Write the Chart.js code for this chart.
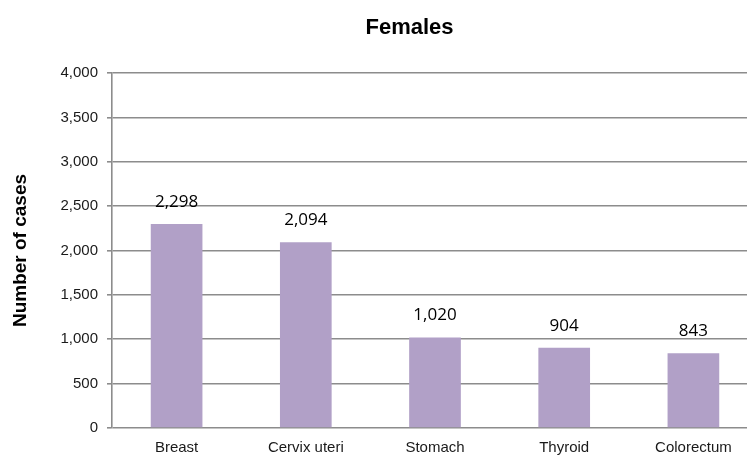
<!DOCTYPE html>
<html>
<head>
<meta charset="utf-8">
<script src="https://cdn.jsdelivr.net/npm/chart.js@4/dist/chart.umd.min.js"></script>
<style>
  html, body { margin: 0; padding: 0; background: #fff; overflow: hidden; }
</style>
</head>
<body>
<canvas id="females" width="819" height="455"></canvas>
<script>
const categories = ['Breast', 'Cervix uteri', 'Stomach', 'Thyroid', 'Colorectum']
const cases = [2298, 2094, 1020, 904, 843]
const yTicks = [0, 500, 1000, 1500, 2000, 2500, 3000, 3500, 4000]

Chart.defaults.font.family = '"Liberation Sans", Arial, sans-serif'
Chart.defaults.color = '#1a1a1a'

// value labels above the bars
const barLabels = {
  id: 'barLabels',
  afterDatasetsDraw(chart) {
    const { ctx } = chart
    const meta = chart.getDatasetMeta(0)
    ctx.save()
    ctx.font = '17px "Open Sans", "Noto Sans", sans-serif'
    ctx.fillStyle = '#000'
    ctx.textAlign = 'center'
    ctx.textBaseline = 'alphabetic'
    meta.data.forEach((bar, i) => {
      ctx.fillText(cases[i].toLocaleString('en-US'), bar.x, bar.y - 17)
    })
    ctx.restore()
  }
}

new Chart('females', {
  type: 'bar',
  data: {
    labels: categories,
    datasets: [{
      label: 'Females',
      data: cases,
      backgroundColor: '#b1a0c7',
      categoryPercentage: 1,
      barPercentage: 0.4,
    }]
  },
  options: {
    responsive: false,
    animation: false,
    devicePixelRatio: 1,
    layout: { padding: 0 },
    plugins: {
      legend: { display: false },
      tooltip: { enabled: false },
      title: {
        display: true,
        text: 'Females',
        color: '#000',
        font: { size: 22, weight: 'bold' },
        padding: { top: 15, bottom: 31.6 },
      },
    },
    scales: {
      x: {
        grid: { display: false, drawTicks: false },
        border: { display: false },
        ticks: { padding: 11, font: { size: 15 } },
        afterFit: (s) => { s.height = 27 },
      },
      y: {
        min: 0,
        max: 4000,
        afterBuildTicks: (s) => { s.ticks = yTicks.map(v => ({ value: v })) },
        afterFit: (s) => { s.width = 112 },
        grid: { color: '#8c8c8c', lineWidth: 1.6, tickLength: 5 },
        border: { color: '#8c8c8c', width: 1.6 },
        ticks: { padding: 9, font: { size: 15 } },
        title: {
          display: true,
          text: 'Number of cases',
          color: '#000',
          font: { size: 19, weight: 'bold' },
          padding: { top: 9, bottom: 4 },
        },
      },
      // empty right-hand axis, only keeps the plot wide enough to run off the page
      y2: {
        position: 'right',
        display: true,
        min: 0,
        max: 1,
        grid: { display: false, drawTicks: false },
        border: { display: false },
        ticks: { display: false },
        afterFit: (s) => { s.width = 61 },
      },
    },
  },
  plugins: [barLabels],
})
</script>
</body>
</html>
